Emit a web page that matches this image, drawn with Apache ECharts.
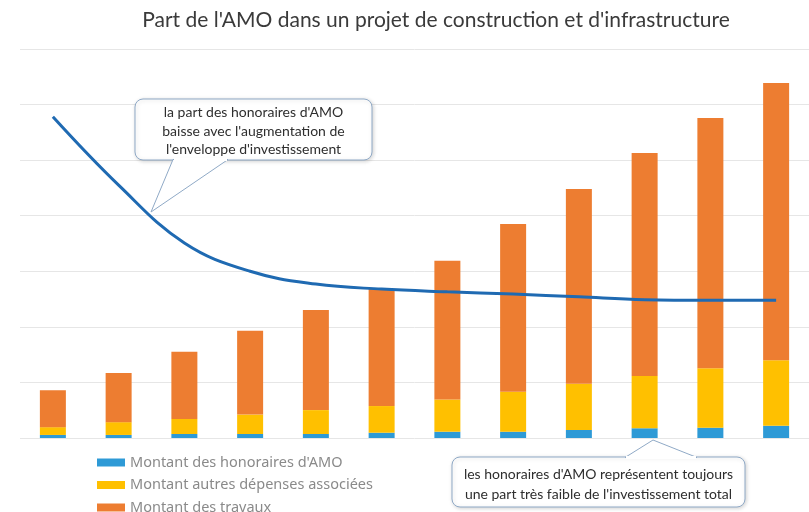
<!DOCTYPE html>
<html>
<head>
<meta charset="utf-8">
<script src="https://cdn.jsdelivr.net/npm/echarts@6/dist/echarts.min.js"></script>
<style>
html,body{margin:0;padding:0;background:#fff;}
#c{width:809px;height:512px;}
</style>
</head>
<body>
<div id="c"></div>
<script>
// Categories (investment envelopes, increasing)
var categories = ['1','2','3','4','5','6','7','8','9','10','11','12'];
// Stacked amounts (arbitrary units)
var montantAMO     = [0.55, 0.55, 0.72, 0.72, 0.72, 0.95, 1.13, 1.13, 1.44, 1.75, 1.85, 2.2];
var montantAutres  = [1.4, 2.3, 2.7, 3.5, 4.3, 4.8, 5.8, 7.2, 8.3, 9.4, 10.7, 11.8];
var montantTravaux = [6.65, 8.85, 12.1, 15.1, 18.0, 21.05, 24.97, 30.17, 35.06, 40.15, 45.05, 49.9];
// Share of AMO fees (same hidden scale)
var partAMO = [57.8, 45.5, 35.1, 30.0, 27.7, 26.8, 26.3, 25.9, 25.4, 24.9, 24.8, 24.8];

var seriesNames = ["Montant des honoraires d'AMO", "Montant autres dépenses associées", "Montant des travaux"];
var titleText = "Part de l'AMO dans un projet de construction et d'infrastructure";
var note1 = ["la part des honoraires d'AMO", "baisse avec l'augmentation de", "l'enveloppe d'investissement"];
var note2 = ["les honoraires d'AMO représentent toujours", "une part très faible de l'investissement total"];

var chart = echarts.init(document.getElementById('c'), null, {renderer: 'canvas'});

var border = '#8fa9c6';
function callout(rect, tail, lines, cx, cy, lh) {
  var els = [];
  els.push({type: 'rect', shape: {x: rect[0], y: rect[1], width: rect[2], height: rect[3], r: 8},
    style: {fill: '#fff', stroke: border, lineWidth: 1, shadowBlur: 4, shadowColor: 'rgba(0,0,0,0.18)', shadowOffsetX: 1, shadowOffsetY: 1}, z: 100});
  els.push({type: 'polygon', shape: {points: tail}, style: {fill: '#fff', stroke: border, lineWidth: 1}, z: 101});
  els.push({type: 'line', shape: {x1: tail[0][0] + 1, y1: tail[0][1], x2: tail[2][0] - 1, y2: tail[2][1]},
    style: {stroke: '#fff', lineWidth: 3}, z: 102});
  els.push({type: 'text', x: cx, y: cy, z: 103,
    style: {text: lines.join('\n'), fill: '#2e2e2e', font: '14px Lato', align: 'center', verticalAlign: 'middle', lineHeight: lh}});
  return els;
}

var graphics = []
  .concat(callout([135, 99, 237, 61], [[173, 159.5], [151, 212], [228, 159.5]], note1, 253.5, 131, 18.5))
  .concat(callout([452, 457, 293, 50], [[625, 457.5], [653, 440], [697, 457.5]], note2, 598.5, 484.5, 19.5));

chart.setOption({
  animation: false,
  title: {
    text: titleText, left: 431, textAlign: 'center', top: 5,
    textStyle: {fontFamily: 'Lato', fontSize: 21, fontWeight: 'normal', color: '#3a3a3a'}
  },
  legend: {
    data: seriesNames, orient: 'vertical', left: 92, top: 450, height: 120,
    itemWidth: 28, itemHeight: 8, itemGap: 7.5, icon: 'rect',
    textStyle: {fontFamily: 'Noto Sans', fontSize: 14.5, color: '#8a8a8a', lineHeight: 15}
  },
  grid: {left: 20, top: 49, width: 800, height: 389},
  xAxis: {
    type: 'category', data: categories,
    axisLine: {show: false}, axisTick: {show: false}, axisLabel: {show: false}
  },
  yAxis: {
    type: 'value', min: 0, max: 70, interval: 10,
    axisLabel: {show: false}, axisLine: {show: false}, axisTick: {show: false},
    splitLine: {lineStyle: {color: '#e6e6e6', width: 1}}
  },
  series: [
    {name: seriesNames[0], type: 'bar', stack: 'total', barWidth: 26, data: montantAMO, itemStyle: {color: '#2e9ad6'}},
    {name: seriesNames[1], type: 'bar', stack: 'total', data: montantAutres, itemStyle: {color: '#ffc000'}},
    {name: seriesNames[2], type: 'bar', stack: 'total', data: montantTravaux, itemStyle: {color: '#ed7d31'}},
    {name: 'part', type: 'line', data: partAMO, smooth: 0.4, symbol: 'none', z: 5,
     lineStyle: {color: '#1f6ab2', width: 3}}
  ],
  graphic: graphics
});
</script>
</body>
</html>
